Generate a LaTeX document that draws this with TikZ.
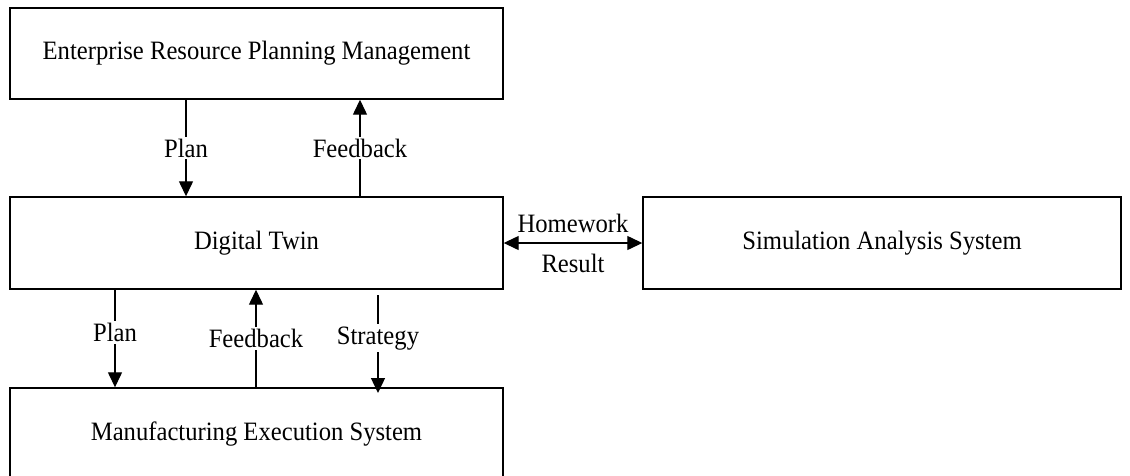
\documentclass[tikz,border=0pt]{standalone}
\usepackage{fontspec}
\setmainfont[FakeStretch=0.93]{Liberation Serif}
\usetikzlibrary{arrows.meta}
\begin{document}
\begin{tikzpicture}[x=1pt,y=-1pt,
  box/.style={draw=black,line width=1.4pt,fill=white,inner sep=0pt},
  arr/.style={line width=1.3pt,-{Triangle[length=15pt,width=14pt]}},
  darr/.style={line width=1.3pt,{Triangle[length=15pt,width=14pt]}-{Triangle[length=15pt,width=14pt]}},
  lab/.style={fill=white,inner sep=2pt},
  every node/.style={font=\fontsize{26.5}{30}\selectfont}]
\useasboundingbox (0,0) rectangle (1130,475);
\clip (0,0) rectangle (1130,475);
\node[box,minimum width=493pt,minimum height=91pt] (erp) at (256.5,53.5) {Enterprise Resource Planning Management};
\node[box,minimum width=493pt,minimum height=92pt] (dt) at (256.5,243) {Digital Twin};
\node[box,minimum width=478pt,minimum height=92pt] (sim) at (882,243) {Simulation Analysis System};
\node[box,minimum width=493pt,minimum height=104pt] (mes) at (256.5,440) {};
\node (mest) at (256.5,434) {Manufacturing Execution System};
% ERP <-> DT
\coordinate (x1) at (186,0);
\coordinate (x2) at (360,0);
\draw[arr] (erp.south -| x1) -- node[lab]{Plan} (dt.north -| x1);
\draw[arr] (dt.north -| x2) -- node[lab]{Feedback} (erp.south -| x2);
% DT <-> MES
\coordinate (x3) at (115,0);
\coordinate (x4) at (256,0);
\coordinate (s0) at (378,295);
\coordinate (s1) at (378,393);
\draw[arr] (dt.south -| x3) -- node[lab,pos=0.44]{Plan} (mes.north -| x3);
\draw[arr] (mes.north -| x4) -- node[lab,pos=0.5]{Feedback} (dt.south -| x4);
\draw[arr] (s0) -- node[lab,pos=0.44]{Strategy} (s1);
% DT <-> Sim
\draw[darr] (dt.east) -- node[above=8pt,inner sep=2pt]{Homework} node[below=8pt,inner sep=2pt]{Result} (sim.west);
\end{tikzpicture}
\end{document}
